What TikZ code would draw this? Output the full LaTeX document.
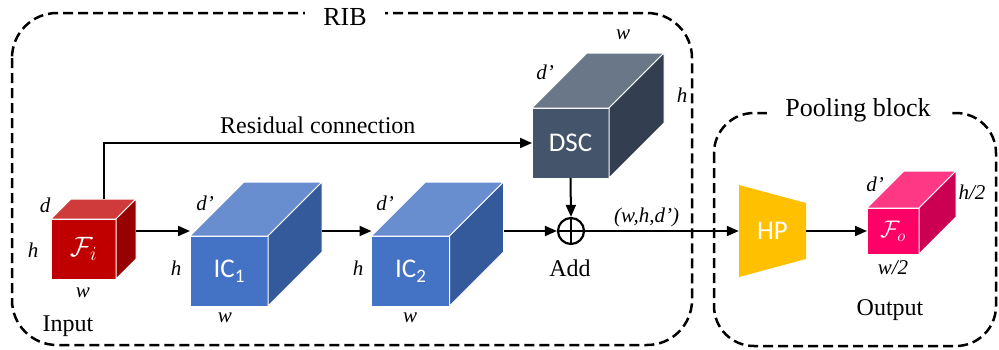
\RequirePackage{fix-cm}
\documentclass[tikz,border=0pt]{standalone}
\usepackage{fontspec}
\setmainfont{Liberation Serif}
\newfontfamily\calibri{Carlito}
\usetikzlibrary{arrows.meta}

\definecolor{redF}{HTML}{C00000}
\definecolor{redT}{HTML}{CF3A3A}
\definecolor{redS}{HTML}{990000}
\definecolor{blueF}{HTML}{4472C4}
\definecolor{blueT}{HTML}{698ED0}
\definecolor{blueS}{HTML}{355A9C}
\definecolor{slateF}{HTML}{44546A}
\definecolor{slateT}{HTML}{6A7788}
\definecolor{slateS}{HTML}{333F50}
\definecolor{pinkF}{HTML}{FF0066}
\definecolor{pinkT}{HTML}{FF3885}
\definecolor{pinkS}{HTML}{CC0052}
\definecolor{hpcol}{HTML}{FFC000}

\tikzset{
  face/.style={draw=white, line width=1pt},
  cubetext/.style={text=white, font=\calibri\fontsize{27}{30}\selectfont},
  txt/.style={font=\fontsize{24}{28}\selectfont},
  title/.style={font=\fontsize{26}{30}\selectfont, fill=white, inner xsep=18pt},
  dimlbl/.style={font=\fontsize{21}{24}\selectfont\itshape},
  arr/.style={-{Triangle[length=12pt,width=10pt]}, line width=2pt},
  blockbox/.style={dashed, dash pattern=on 10pt off 5pt, line width=2.5pt},
}

% name, centre, width, height, depth, colour, text
\newcommand{\drawcube}[7]{%
  \node[face, fill=#6F, minimum width=#3pt, minimum height=#4pt, outer sep=0pt, inner sep=0pt, cubetext] (#1) at #2 {#7};
  \filldraw[face, fill=#6T] (#1.north west) -- ++(#5,-#5) -- ++(#3,0) coordinate (#1-rb) -- (#1.north east) -- cycle;
  \filldraw[face, fill=#6S] (#1.north east) -- (#1-rb) -- ++(0,#4) -- (#1.south east) -- cycle;
  \coordinate (#1-bt) at ([shift={(#5,-#5)}]#1.north);
}
\newcommand{\lowsub}[1]{\raisebox{-5pt}{\fontsize{19}{19}\selectfont #1}}

\begin{document}
\begin{tikzpicture}[x=1pt, y=-1pt]
	\useasboundingbox (0,0) rectangle (999,349);
	% blocks
	\draw[blockbox, rounded corners=45pt] (12,13) rectangle (692,345);
	\node[title] (rib) at (345,17) {RIB};
	\draw[blockbox, rounded corners=40pt] (714,113) rectangle (996,346);
	\node[title] (pool) at (858,110) {Pooling block};
	% cubes
	\drawcube{Fi}{(83.5,249)}{65}{60}{20}{red}{\fontsize{28}{30}\selectfont$\mathcal{F}_i$}
	\drawcube{ic1}{(229,271)}{78}{70}{54}{blue}{IC\lowsub{1}}
	\drawcube{ic2}{(410.5,271)}{78}{70}{54}{blue}{IC\lowsub{2}}
	\drawcube{dsc}{(570.5,143)}{77}{70}{55}{slate}{DSC}
	\drawcube{Fo}{(893,231)}{52}{46}{37}{pink}{\fontsize{24}{26}\selectfont$\mathcal{F}_o$}
	% pooling
	\fill[hpcol] (739,185) -- (806,203) -- (806,259) -- (739,277) -- cycle;
	\node[cubetext, minimum width=67pt, minimum height=92pt, inner sep=0pt] (hp) at (772.5,231) {HP};
	% add
	\node[circle, draw, line width=2.2pt, minimum size=26pt, inner sep=0pt] (add) at (571,231) {};
	\draw[line width=2.2pt] (add.north) -- (add.south) (add.west) -- (add.east);
	% sizes
	\node[dimlbl] (d0) at (45,205)  {d};
	\node[dimlbl] (h0) at (33,250)  {h};
	\node[dimlbl] (w0) at (83,293)  {w};
	\node[dimlbl] (d1) at (205,203) {d'};
	\node[dimlbl] (h1) at (176,268) {h};
	\node[dimlbl] (w1) at (225,318) {w};
	\node[dimlbl] (d2) at (385,203) {d'};
	\node[dimlbl] (h2) at (358,268) {h};
	\node[dimlbl] (w2) at (410,318) {w};
	\node[dimlbl] (w3) at (623,35)  {w};
	\node[dimlbl] (d3) at (545,72)  {d'};
	\node[dimlbl] (h3) at (682,95)  {h};
	\node[dimlbl] (d4) at (875,184) {d'};
	\node[dimlbl] (h4) at (972,192) {h/2};
	\node[dimlbl] (w4) at (893,268) {w/2};
	\node[txt] (inlbl)  at (68,326)  {Input};
	\node[txt] (addlbl) at (570,268) {Add};
	\node[txt] (outlbl) at (890,310) {Output};
	% arrows
	\draw[arr] (Fi-bt) |- (dsc.west) node[txt, pos=.75, above=5pt] (reslbl) {Residual connection};
	\draw[arr] (Fi-rb |- add) -- (ic1.north west |- add);
	\draw[arr] (ic1-rb |- add) -- (ic2.north west |- add);
	\draw[arr] (ic2-rb |- add) -- (add.west);
	\draw[arr] (dsc.south) -- (add.north);
	\draw[arr] (add.east) -- (hp.west) node[dimlbl, pos=.4, above] (shape) {(w,h,d')};
	\draw[arr] (hp.east) -- (Fo.west);
\end{tikzpicture}
\end{document}
